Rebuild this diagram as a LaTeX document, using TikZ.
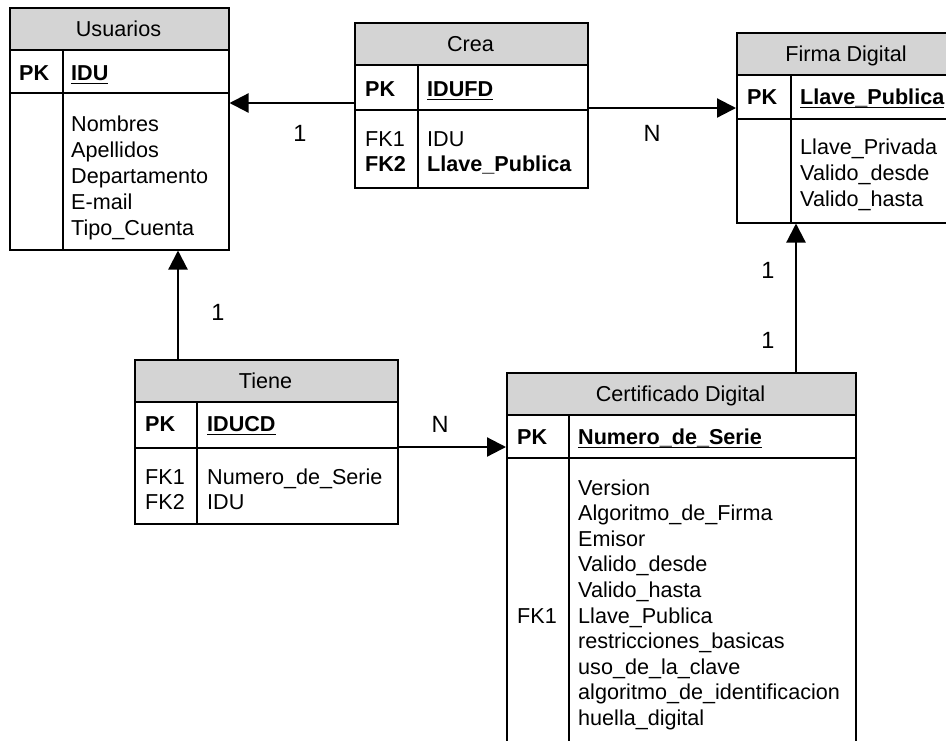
\documentclass[tikz,border=0pt]{standalone}
\usepackage{fontspec}
\setmainfont{Liberation Sans}
\usetikzlibrary{arrows.meta}
\definecolor{hdrgray}{RGB}{212,212,212}
\newcommand\erfont{\fontsize{21.6}{25.6}\selectfont}
\newcommand\cardfont{\fontsize{23.5}{26}\selectfont}
% bold, underlined key name
\newcommand\keyname[1]{\setbox0\hbox{\bfseries #1}\rlap{\vrule height -2.6pt depth 4.4pt width \wd0}\box0}

\begin{document}
\begin{tikzpicture}[x=1pt,y=-1pt,
  tbl/.style={draw, line width=1.5pt, rectangle, inner sep=0, anchor=north west},
  rule/.style={line width=1.5pt},
  hdr/.style={fill=hdrgray},
  lbl/.style={inner sep=0, font=\erfont},
  attr/.style={lbl, anchor=base west},
  ttl/.style={lbl, anchor=base},
  card/.style={inner sep=0, font=\cardfont, anchor=center},
  conn/.style={line width=2.2pt, -{Triangle[length=19pt,width=19pt]}}]

\useasboundingbox (0,0) rectangle (946,740);

% ---------- header fills ----------
\fill[hdr] (9,7) rectangle (228,50);
\fill[hdr] (354,22) rectangle (587,65);
\fill[hdr] (736,32) rectangle (960,75);
\fill[hdr] (134,359) rectangle (397,402);
\fill[hdr] (506,372) rectangle (855,415);

% ---------- Usuarios ----------
\node[tbl, minimum width=219pt, minimum height=242pt] (usu) at (9,7) {};
\draw[rule] (usu.west |- 0,50) -- (usu.east |- 0,50);
\draw[rule] (usu.west |- 0,93) -- (usu.east |- 0,93);
\draw[rule] (63,50) -- (usu.south -| 63,0);
\node[ttl] (usu-t) at (118.5,36) {Usuarios};
\node[attr] (usu-pk) at (19,80) {\bfseries PK};
\node[attr] (usu-k) at (71,80) {\keyname{IDU}};
\foreach \t [count=\i from 0] in {Nombres, Apellidos, Departamento, E-mail, Tipo\_Cuenta}
  \node[attr] (usu-a\i) at (71,131+26*\i) {\t};

% ---------- Crea ----------
\node[tbl, minimum width=233pt, minimum height=165pt] (crea) at (354,22) {};
\draw[rule] (crea.west |- 0,65) -- (crea.east |- 0,65);
\draw[rule] (crea.west |- 0,110) -- (crea.east |- 0,110);
\draw[rule] (418,65) -- (crea.south -| 418,0);
\node[ttl] (crea-t) at (470.5,51) {Crea};
\node[attr] (crea-pk) at (365,96) {\bfseries PK};
\node[attr] (crea-k) at (427,96) {\keyname{IDUFD}};
\node[attr] (crea-f1) at (365,146) {FK1};
\node[attr] (crea-f2) at (365,171) {\bfseries FK2};
\node[attr] (crea-a0) at (427,146) {IDU};
\node[attr] (crea-a1) at (427,171) {\bfseries Llave\_Publica};

% ---------- Firma Digital ----------
\node[tbl, minimum width=224pt, minimum height=190pt] (firma) at (736,32) {};
\draw[rule] (firma.west |- 0,75) -- (firma.east |- 0,75);
\draw[rule] (firma.west |- 0,119) -- (firma.east |- 0,119);
\draw[rule] (791,75) -- (firma.south -| 791,0);
\node[ttl] (firma-t) at (846,61) {Firma Digital};
\node[attr] (firma-pk) at (747,104) {\bfseries PK};
\node[attr] (firma-k) at (800,104) {\keyname{Llave\_Publica}};
\foreach \t [count=\i from 0] in {Llave\_Privada, Valido\_desde, Valido\_hasta}
  \node[attr] (firma-a\i) at (800,154+26*\i) {\t};

% ---------- Tiene ----------
\node[tbl, minimum width=263pt, minimum height=164pt] (tiene) at (134,359) {};
\draw[rule] (tiene.west |- 0,402) -- (tiene.east |- 0,402);
\draw[rule] (tiene.west |- 0,448) -- (tiene.east |- 0,448);
\draw[rule] (197,402) -- (tiene.south -| 197,0);
\node[ttl] (tiene-t) at (265.5,388) {Tiene};
\node[attr] (tiene-pk) at (145,431) {\bfseries PK};
\node[attr] (tiene-k) at (207,431) {\keyname{IDUCD}};
\node[attr] (tiene-f1) at (145,484) {FK1};
\node[attr] (tiene-f2) at (145,509) {FK2};
\node[attr] (tiene-a0) at (207,484) {Numero\_de\_Serie};
\node[attr] (tiene-a1) at (207,509) {IDU};

% ---------- Certificado Digital ----------
\node[tbl, minimum width=349pt, minimum height=390pt] (cert) at (506,372) {};
\draw[rule] (cert.west |- 0,415) -- (cert.east |- 0,415);
\draw[rule] (cert.west |- 0,458) -- (cert.east |- 0,458);
\draw[rule] (569,415) -- (cert.south -| 569,0);
\node[ttl] (cert-t) at (680.5,401) {Certificado Digital};
\node[attr] (cert-pk) at (517,444) {\bfseries PK};
\node[attr] (cert-k) at (578,444) {\keyname{Numero\_de\_Serie}};
\foreach \t [count=\i from 0] in {Version, Algoritmo\_de\_Firma, Emisor, Valido\_desde,
    Valido\_hasta, Llave\_Publica, restricciones\_basicas, uso\_de\_la\_clave,
    algoritmo\_de\_identificacion, huella\_digital}
  \node[attr] (cert-a\i) at (578,495+25.6*\i) {\t};
\node[attr] (cert-f1) at (517,623) {FK1};

% ---------- relationships ----------
\draw[conn] (crea.west |- 0,103) -- (usu.east |- 0,103);
\draw[conn] (crea.east |- 0,108) -- (firma.west |- 0,108);
\draw[conn] (tiene.north -| 178,0) -- (usu.south -| 178,0);
\draw[conn] (tiene.east |- 0,447) -- (cert.west |- 0,447);
\draw[conn] (cert.north -| 796,0) -- (firma.south -| 796,0);

% ---------- cardinalities ----------
\node[card] (c-usu) at (300,133) {1};
\node[card] (c-firma) at (652,133) {N};
\node[card] (c-tiene) at (218,312) {1};
\node[card] (c-cert) at (440,424) {N};
\node[card] (c-f1) at (768,270) {1};
\node[card] (c-f2) at (768,340) {1};
\end{tikzpicture}
\end{document}
